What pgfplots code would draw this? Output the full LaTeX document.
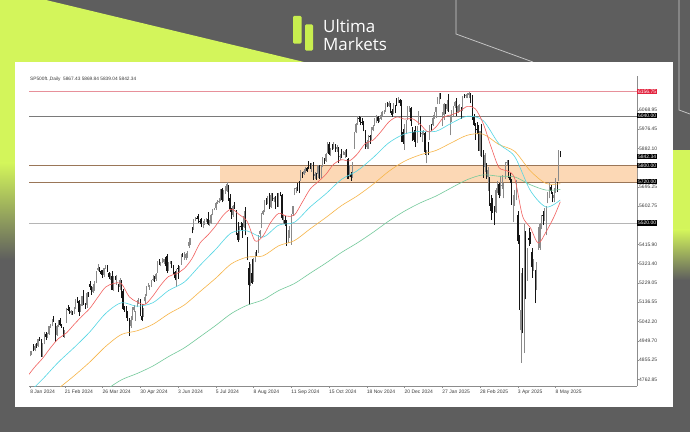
\documentclass[border=0pt]{standalone}
\usepackage{pgfplots}
\usepackage{pgfplotstable}
\pgfplotsset{compat=1.18}
\usepackage{fontspec}
\setmainfont{Liberation Sans}
\newfontfamily\logofont{Open Sans}

\definecolor{bgdark}{HTML}{5E5E5E}
\definecolor{lime}{HTML}{D3F55B}
\definecolor{logolime}{HTML}{C8EE4F}
\definecolor{upc}{HTML}{8A8A8A}
\definecolor{dnc}{HTML}{151515}
\definecolor{emaA}{HTML}{F2605E}
\definecolor{emaB}{HTML}{52D6E4}
\definecolor{emaC}{HTML}{F7B547}
\definecolor{emaD}{HTML}{72C99A}
\definecolor{zone}{HTML}{FCD8B5}
\definecolor{zoneline}{HTML}{9A7658}
\definecolor{hiline}{HTML}{E7909A}
\definecolor{hibox}{HTML}{E3243F}
\definecolor{resline}{HTML}{7A7A7A}
\definecolor{supline}{HTML}{B5B5B5}
\definecolor{scaletext}{HTML}{3C3C3C}

% daily bars, index 0 = first bar on screen
\pgfplotstableread{
i o h l c
0 4820 4878 4815 4875
1 4880 4902 4874 4884
2 4886 4902 4880 4898
3 4910 4936 4898 4902
4 4905 4932 4898 4926
5 4926 4938 4916 4922
6 4924 4960 4920 4958
7 4958 4966 4950 4954
8 4955 4960 4872 4875
9 4878 4937 4870 4934
10 4940 4990 4932 4986
11 4984 4990 4955 4969
12 4970 4988 4962 4980
13 4982 5022 4978 5020
14 5020 5030 5012 5022
15 5024 5056 5020 5050
16 5050 5070 5040 5044
17 5030 5035 4945 4975
18 4980 5025 4975 5022
19 5024 5052 5015 5050
20 5050 5060 5020 5025
21 5025 5032 5012 5018
22 5016 5018 4970 4994
23 4992 5002 4965 4999
24 5040 5110 5035 5103
25 5106 5125 5096 5104
26 5104 5112 5080 5084
27 5086 5100 5075 5092
28 5090 5095 5075 5083
29 5085 5115 5080 5108
30 5110 5150 5104 5148
31 5148 5160 5135 5141
32 5140 5145 5070 5089
33 5092 5130 5088 5114
34 5120 5168 5116 5165
35 5166 5198 5125 5131
36 5128 5132 5105 5124
37 5125 5185 5110 5181
38 5180 5185 5162 5170
39 5227 5240 5195 5212
40 5205 5215 5172 5178
41 5185 5225 5182 5209
42 5200 5240 5192 5238
43 5235 5286 5228 5284
44 5295 5320 5290 5300
45 5302 5306 5285 5291
46 5286 5292 5270 5274
47 5280 5292 5256 5259
48 5268 5304 5258 5302
49 5302 5318 5298 5308
50 5310 5318 5285 5297
51 5280 5285 5248 5258
52 5250 5280 5246 5262
53 5265 5290 5195 5197
54 5200 5265 5192 5254
55 5256 5264 5245 5251
56 5250 5270 5222 5258
57 5210 5225 5185 5208
58 5210 5252 5195 5245
59 5240 5245 5155 5168
60 5190 5200 5100 5106
61 5105 5120 5090 5095
62 5110 5118 5060 5065
63 5070 5095 5045 5053
64 5050 5060 4975 5008
65 5020 5070 5012 5051
66 5056 5115 5050 5110
67 5098 5125 5090 5111
68 5070 5095 5045 5086
69 5118 5145 5112 5137
70 5145 5158 5130 5152
71 5148 5152 5068 5071
72 5070 5130 5045 5052
73 5080 5110 5065 5098
74 5140 5175 5130 5161
75 5170 5215 5165 5213
76 5215 5230 5210 5219
77 5205 5222 5198 5218
78 5218 5245 5210 5243
79 5248 5268 5240 5251
80 5255 5262 5235 5249
81 5250 5280 5240 5274
82 5285 5336 5280 5334
83 5334 5345 5318 5322
84 5320 5330 5312 5327
85 5330 5350 5325 5331
86 5330 5348 5322 5344
87 5342 5355 5310 5329
88 5360 5368 5278 5289
89 5295 5330 5290 5325
90 5325 5335 5320 5330
91 5330 5338 5300 5324
92 5310 5315 5275 5285
93 5285 5290 5242 5252
94 5258 5298 5210 5294
95 5300 5318 5250 5298
96 5290 5310 5280 5305
97 5320 5370 5318 5367
98 5368 5375 5355 5365
99 5350 5378 5343 5359
100 5352 5375 5340 5372
101 5365 5387 5350 5385
102 5410 5450 5400 5430
103 5440 5448 5415 5442
104 5495 5500 5470 5494
105 5495 5540 5485 5534
106 5535 5550 5528 5547
107 5547 5552 5538 5545
108 5548 5565 5520 5532
109 5530 5540 5515 5523
110 5525 5545 5500 5505
111 5508 5528 5495 5525
112 5520 5538 5510 5533
113 5535 5545 5525 5537
114 5540 5575 5510 5514
115 5518 5535 5505 5528
116 5522 5563 5518 5561
117 5562 5590 5558 5588
118 5588 5594 5582 5590
119 5592 5622 5585 5617
120 5618 5632 5612 5622
121 5620 5640 5618 5625
122 5630 5683 5625 5681
123 5685 5690 5620 5631
124 5632 5680 5628 5660
125 5665 5700 5660 5675
126 5678 5720 5670 5711
127 5700 5705 5628 5631
128 5640 5660 5575 5587
129 5585 5595 5540 5546
130 5560 5610 5550 5604
131 5605 5620 5590 5595
132 5580 5585 5462 5466
133 5470 5525 5428 5437
134 5445 5508 5440 5496
135 5505 5525 5485 5500
136 5500 5520 5450 5471
137 5500 5578 5495 5556
138 5570 5600 5460 5481
139 5450 5455 5340 5380
140 5300 5330 5125 5218
141 5225 5320 5215 5271
142 5280 5345 5225 5230
143 5240 5352 5235 5348
144 5345 5380 5330 5372
145 5375 5390 5360 5372
146 5380 5462 5375 5461
147 5465 5485 5450 5481
148 5500 5570 5495 5568
149 5565 5585 5560 5578
150 5580 5632 5572 5631
151 5630 5640 5610 5620
152 5620 5650 5612 5643
153 5650 5665 5588 5592
154 5600 5665 5595 5655
155 5658 5668 5628 5636
156 5635 5648 5620 5644
157 5645 5650 5588 5610
158 5620 5665 5600 5609
159 5615 5668 5600 5664
160 5664 5670 5650 5655
161 5655 5660 5535 5543
162 5530 5560 5515 5533
163 5535 5555 5505 5515
164 5520 5535 5410 5420
165 5430 5485 5425 5482
166 5485 5508 5450 5506
167 5510 5565 5415 5563
168 5565 5605 5555 5604
169 5660 5690 5655 5684
170 5685 5695 5665 5690
171 5695 5715 5675 5691
172 5690 5725 5665 5674
173 5740 5775 5725 5769
174 5765 5770 5740 5757
175 5760 5780 5755 5772
176 5775 5790 5765 5786
177 5785 5792 5768 5774
178 5800 5820 5780 5796
179 5798 5810 5782 5788
180 5785 5813 5770 5811
181 5808 5815 5730 5758
182 5750 5770 5735 5758
183 5752 5765 5730 5747
184 5760 5800 5740 5797
185 5795 5800 5735 5741
186 5745 5798 5740 5796
187 5795 5838 5790 5836
188 5830 5835 5808 5823
189 5822 5862 5815 5857
190 5862 5912 5858 5901
191 5905 5915 5850 5856
192 5858 5885 5845 5882
193 5895 5905 5875 5880
194 5885 5915 5880 5903
195 5902 5905 5865 5891
196 5880 5900 5865 5888
197 5885 5890 5812 5833
198 5840 5855 5825 5845
199 5850 5880 5835 5842
200 5855 5870 5850 5857
201 5850 5875 5835 5866
202 5860 5880 5840 5846
203 5830 5835 5733 5736
204 5750 5800 5745 5759
205 5760 5770 5725 5742
206 5745 5815 5740 5812
207 5890 5962 5880 5957
208 5960 6005 5955 6000
209 6000 6038 5995 6022
210 6030 6040 6012 6026
211 6025 6035 5995 6009
212 6010 6030 5995 6009
213 6010 6015 5965 5972
214 5965 5970 5880 5893
215 5890 5925 5880 5915
216 5905 5945 5880 5938
217 5940 5945 5905 5937
218 5940 5985 5925 5968
219 5970 5995 5965 5987
220 5995 6030 5990 6004
221 6010 6042 6005 6039
222 6035 6040 6005 6015
223 6015 6030 6012 6025
224 6025 6060 6020 6046
225 6048 6065 6040 6060
226 6060 6068 6048 6063
227 6065 6100 6060 6098
228 6098 6108 6082 6086
229 6088 6110 6085 6100
230 6100 6102 6055 6062
231 6065 6075 6035 6044
232 6055 6100 6050 6092
233 6090 6092 6055 6059
234 6110 6125 6090 6101
235 6105 6130 6100 6123
236 6118 6122 6090 6100
237 6100 6118 5915 5920
238 5960 5975 5905 5914
239 5900 6000 5875 5977
240 5975 6022 5950 6020
241 6022 6086 6018 6085
242 6080 6090 6060 6082
243 6080 6085 5990 6014
244 5975 5985 5920 5950
245 5960 5970 5915 5924
246 5945 5990 5890 5910
247 5915 5990 5910 5982
248 6000 6062 5995 6015
249 6030 6040 5935 5948
250 5950 5965 5915 5956
251 5955 5970 5945 5960
252 5955 5960 5850 5864
253 5850 5876 5809 5872
254 5900 5915 5850 5878
255 5930 5995 5925 5985
256 5990 6000 5965 5971
257 5995 6045 5990 6030
258 6030 6060 6025 6050
259 6060 6085 6030 6081
260 6100 6130 6095 6117
261 6110 6150 6098 6149
262 6148 6152 6120 6131
263 6010 6060 5990 6041
264 6045 6100 6020 6096
265 6090 6095 6050 6066
266 6075 6115 6065 6098
267 6100 6145 6058 6067
268 5950 6045 5945 6020
269 6025 6068 6010 6063
270 6050 6090 6040 6085
271 6088 6110 6080 6107
272 6105 6125 6040 6048
273 6060 6092 6055 6088
274 6075 6095 6060 6090
275 6080 6085 6025 6072
276 6070 6138 6065 6135
277 6135 6148 6125 6134
278 6134 6145 6128 6140
279 6140 6150 6125 6147
280 6140 6156.75 6128 6150
281 6148 6150 6100 6134
282 6135 6140 6020 6028
283 6035 6050 5990 5997
284 5995 6005 5925 5969
285 5975 6010 5950 5969
286 5985 5995 5870 5874
287 5870 5968 5845 5967
288 5975 5998 5840 5861
289 5840 5875 5740 5788
290 5790 5860 5770 5852
291 5800 5810 5735 5748
292 5745 5790 5675 5778
293 5740 5745 5605 5622
294 5615 5655 5535 5579
295 5615 5640 5570 5605
296 5600 5605 5510 5527
297 5575 5690 5568 5681
298 5685 5725 5665 5717
299 5710 5712 5640 5656
300 5660 5750 5650 5716
301 5700 5755 5685 5703
302 5690 5715 5640 5708
303 5740 5815 5735 5807
304 5810 5826 5800 5816
305 5815 5825 5738 5750
306 5745 5765 5715 5731
307 5730 5735 5610 5618
308 5595 5655 5525 5649
309 5650 5680 5605 5669
310 5640 5730 5630 5707
311 5560 5580 5420 5433
312 5430 5460 5100 5109
313 5000 5280 4842 5097
314 5100 5300 4985 5017
315 5000 5515 4890 5491
316 5470 5480 5150 5301
317 5290 5400 5240 5396
318 5450 5495 5410 5439
319 5440 5475 5420 5429
320 5380 5400 5255 5308
321 5310 5345 5290 5314
322 5290 5295 5132 5189
323 5200 5330 5195 5318
324 5400 5500 5390 5406
325 5400 5520 5390 5515
326 5510 5560 5490 5554
327 5560 5580 5510 5558
328 5550 5595 5530 5589
329 5585 5605 5460 5597
330 5620 5670 5615 5631
331 5650 5720 5640 5714
332 5695 5705 5660 5677
333 5665 5670 5620 5633
334 5640 5690 5620 5657
335 5670 5740 5665 5689
336 5695 5720 5670 5685
337 5740 5873 5725 5866
338 5867.43 5869.84 5839.04 5842.34
}\ohlc

\pgfplotsset{
  candle/.style={draw=none, no markers, forget plot,
    error bars/y dir=plus, error bars/y explicit, error bars/error mark=none},
  upbar/.style={restrict expr to domain={\thisrow{c}-\thisrow{o}}{0:100000}},
  downbar/.style={restrict expr to domain={\thisrow{c}-\thisrow{o}}{-100000:-0.001}},
}

\begin{document}
\begin{tikzpicture}
\begin{scope}[x=1bp,y=1bp]
\useasboundingbox (0,0) rectangle (690,432);
\fill[bgdark] (0,0) rectangle (690,432);
% lime corner and side glows
\fill[lime] (0,432) -- (46,432) -- (304,370) -- (0,370) -- cycle;
\fill[lime] (0,370.5) rectangle (15,269);
\shade[top color=lime, bottom color=bgdark] (0,269.2) rectangle (15,172);
\fill[lime] (673,282) rectangle (690,202);
\shade[top color=lime, bottom color=bgdark] (673,202.2) rectangle (690,152);
% thin outline strokes
\draw[white!70!bgdark, line width=0.7bp] (456,432) -- (456,398) -- (533,370);
\draw[white!70!bgdark, line width=0.7bp] (679,432) -- (679,322) -- (690,318);
% logo
\fill[logolime, rounded corners=1.2bp] (293,388.5) rectangle (301.5,416);
\fill[logolime, rounded corners=1.2bp] (305,381.5) rectangle (313,407.5);
\node[anchor=base west, inner sep=0pt, text=white, font=\logofont\fontsize{17}{17}\selectfont] at (323,399.5) {Ultima};
\node[anchor=base west, inner sep=0pt, text=white, font=\logofont\fontsize{17}{17}\selectfont] at (323,381.5) {Markets};
% chart panel
\fill[white] (15,25) rectangle (673,370);
\node[anchor=west, inner sep=0pt, text=scaletext, font=\fontsize{4.8}{5}\selectfont] at (30,352.5) {SP500ft.,Daily\ \ 5867.43 5869.84 5839.04 5842.34};
\end{scope}

\begin{axis}[
  at={(29bp,46bp)}, anchor=south west,
  scale only axis, width=608bp, height=310bp,
  xmin=0.3, xmax=386.8, ymin=4730.4, ymax=6233,
  axis x line*=bottom, axis y line*=right,
  axis line style={draw=black!45, line width=0.6bp, -},
  tick align=outside, major tick length=2bp,
  every tick/.style={draw=black!45, line width=0.4bp},
  xtick={1,23,47,71,95,119,143,167,191,215,239,263,287,311,335},
  xticklabels={8 Jan 2024,21 Feb 2024,26 Mar 2024,30 Apr 2024,3 Jun 2024,5 Jul 2024,8 Aug 2024,11 Sep 2024,15 Oct 2024,18 Nov 2024,20 Dec 2024,27 Jan 2025,28 Feb 2025,3 Apr 2025,8 May 2025},
  xticklabel style={anchor=north west, inner sep=0pt, yshift=-1.5bp, font=\fontsize{5}{5}\selectfont, text=scaletext},
  ytick={4762.85,4855.25,4949.70,5042.20,5136.55,5229.05,5323.40,5415.90,5602.75,5695.25,5882.10,5976.45,6068.95},
  yticklabels={4762.85,4855.25,4949.70,5042.20,5136.55,5229.05,5323.40,5415.90,5602.75,5695.25,5882.10,5976.45,6068.95},
  yticklabel style={anchor=west, inner sep=0pt, font=\fontsize{5}{5}\selectfont, text=scaletext},
  clip mode=individual,
]
% supply / demand zone
\addplot[fill=zone, draw=none, forget plot] coordinates {(121.9,5720) (400,5720) (400,5800) (121.9,5800)};
\addplot[zoneline, line width=0.6bp, forget plot] coordinates {(-5,5800) (400,5800)};
\addplot[zoneline, line width=0.6bp, forget plot] coordinates {(-5,5720) (400,5720)};
% horizontal levels
\addplot[hiline, line width=0.5bp, forget plot] coordinates {(-5,6156.75) (400,6156.75)};
\addplot[resline, line width=0.6bp, forget plot] coordinates {(-5,6040) (400,6040)};
\addplot[supline, line width=1bp, forget plot] coordinates {(-5,5520) (400,5520)};

% wicks
\addplot[candle, upbar, error bars/error bar style={draw=upc, line width=0.45bp}]
  table[x=i, y=l, y error plus expr=\thisrow{h}-\thisrow{l}] {\ohlc};
\addplot[candle, downbar, error bars/error bar style={draw=dnc, line width=0.45bp}]
  table[x=i, y=l, y error plus expr=\thisrow{h}-\thisrow{l}] {\ohlc};
% bodies
\addplot[candle, upbar, error bars/error bar style={draw=upc, line width=1.1bp}]
  table[x=i, y=o, y error plus expr=\thisrow{c}-\thisrow{o}] {\ohlc};
\addplot[candle, downbar, error bars/error bar style={draw=dnc, line width=1.1bp}]
  table[x=i, y=c, y error plus expr=\thisrow{o}-\thisrow{c}] {\ohlc};

% exponential moving averages 20 / 50 / 100 / 200
\addplot[emaD, line width=0.6bp, smooth, forget plot] coordinates {
(0,4464) (9,4503) (19,4551) (29,4600) (39,4652) (49,4710) (59,4760) (69,4791) (79,4827) (89,4873) (99,4915) (109,4969) (119,5024) (129,5082) (139,5122) (149,5148) (159,5193) (169,5227) (179,5277) (189,5326) (199,5378) (209,5424) (219,5475) (229,5530) (239,5578) (249,5618) (259,5651) (269,5692) (279,5731) (289,5754) (299,5747) (309,5744) (319,5706) (329,5680) (338,5683)};
\addplot[emaC, line width=0.6bp, smooth, forget plot] coordinates {
(0,4600) (9,4653) (19,4718) (29,4780) (39,4847) (49,4922) (59,4980) (69,4998) (79,5029) (89,5080) (99,5123) (109,5188) (119,5253) (129,5323) (139,5355) (149,5361) (159,5410) (169,5435) (179,5492) (189,5547) (199,5605) (209,5652) (219,5708) (229,5771) (239,5820) (249,5851) (259,5872) (269,5910) (279,5946) (289,5951) (299,5901) (309,5868) (319,5773) (329,5712) (338,5711)};
\addplot[emaB, line width=0.6bp, smooth, forget plot] coordinates {
(0,4697) (9,4764) (19,4846) (29,4917) (39,4993) (49,5082) (59,5134) (69,5117) (79,5134) (89,5193) (99,5234) (109,5315) (119,5393) (129,5473) (139,5482) (149,5452) (159,5510) (169,5524) (179,5598) (189,5662) (199,5732) (209,5774) (219,5837) (229,5909) (239,5952) (249,5965) (259,5965) (269,6005) (279,6038) (289,6017) (299,5905) (309,5843) (319,5678) (329,5598) (338,5632)};
\addplot[emaA, line width=0.6bp, smooth, forget plot] coordinates {
(0,4784) (4,4823) (9,4865) (14,4916) (19,4960) (24,4987) (29,5029) (34,5069) (39,5107) (44,5160) (49,5210) (54,5227) (59,5227) (64,5163) (69,5138) (74,5126) (79,5166) (84,5219) (89,5261) (94,5275) (99,5300) (104,5349) (109,5423) (114,5462) (119,5507) (124,5560) (129,5588) (134,5561) (139,5528) (144,5434) (149,5457) (154,5524) (159,5567) (164,5554) (169,5559) (174,5621) (179,5685) (184,5720) (189,5756) (194,5806) (199,5827) (204,5822) (209,5855) (214,5905) (219,5922) (224,5963) (229,6010) (234,6034) (239,6024) (244,6026) (249,5999) (254,5962) (259,5986) (264,6034) (269,6045) (274,6061) (279,6086) (284,6074) (289,6003) (294,5890) (299,5790) (304,5774) (309,5738) (314,5555) (319,5498) (324,5423) (329,5478) (334,5550) (338,5623)};

% price tags on the scale
\node[fill=hibox, text=white, anchor=west, inner sep=0.9bp, font=\fontsize{5}{5}\selectfont] at (axis cs:386.8,6156.75) {6156.75};
\node[fill=black, text=white, anchor=west, inner sep=0.9bp, font=\fontsize{5}{5}\selectfont] at (axis cs:386.8,6040) {6040.00};
\node[fill=black, text=white, anchor=west, inner sep=0.9bp, font=\fontsize{5}{5}\selectfont] at (axis cs:386.8,5842.34) {5842.34};
\node[fill=black, text=white, anchor=west, inner sep=0.9bp, font=\fontsize{5}{5}\selectfont] at (axis cs:386.8,5800) {5800.00};
\node[fill=black, text=white, anchor=west, inner sep=0.9bp, font=\fontsize{5}{5}\selectfont] at (axis cs:386.8,5720) {5720.00};
\node[fill=black, text=white, anchor=west, inner sep=0.9bp, font=\fontsize{5}{5}\selectfont] at (axis cs:386.8,5520) {5520.00};
\end{axis}
\end{tikzpicture}
\end{document}
